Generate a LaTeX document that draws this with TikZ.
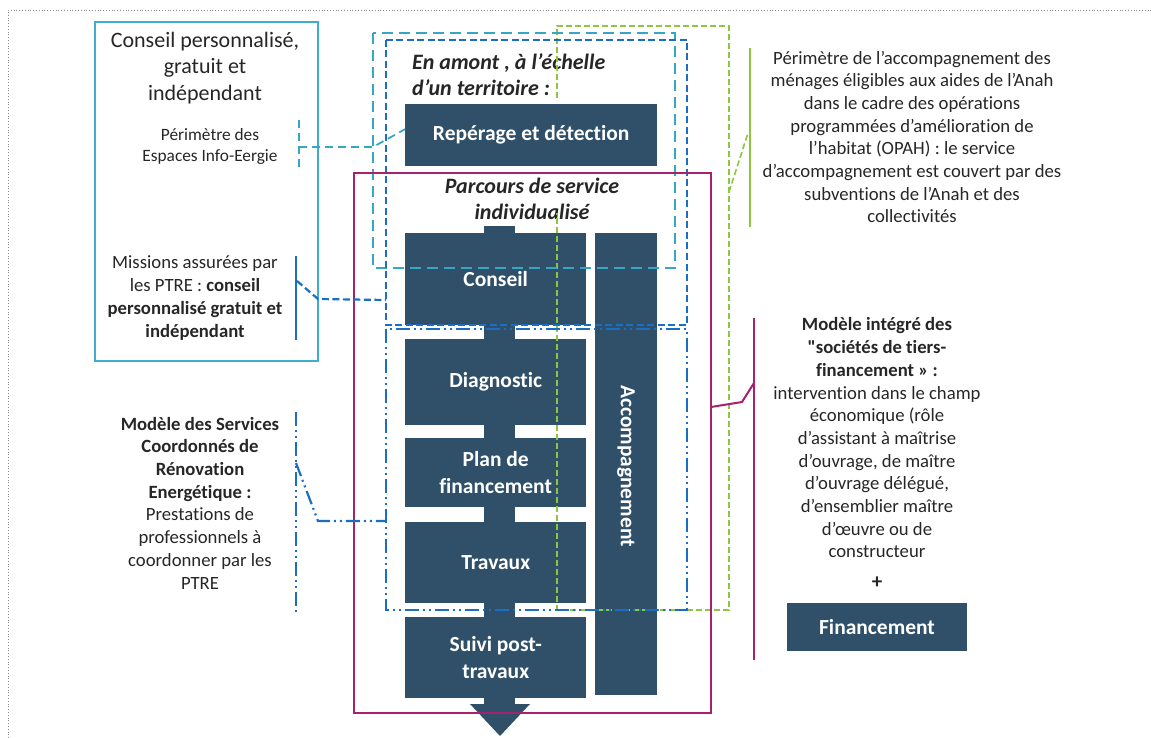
\documentclass[tikz,border=0pt]{standalone}
\usepackage{fontspec}
\usetikzlibrary{calc}
\setmainfont{Carlito}[Ligatures={TeXOff,NoCommon}]
\definecolor{boxblue}{HTML}{2F5068}
\definecolor{ink}{HTML}{262626}
\definecolor{eiecyan}{HTML}{41ACD0}
\definecolor{cyandash}{HTML}{35A7C5}
\definecolor{ptreblue}{HTML}{1A6FC4}
\definecolor{anahgreen}{HTML}{8DC63F}
\definecolor{stfmag}{HTML}{A7226E}
\definecolor{framegray}{HTML}{8A8A8A}
\begin{document}
\begin{tikzpicture}[x=1pt,y=-1pt,
  darkbox/.style={fill=boxblue, text=white, font=\bfseries\fontsize{21.5}{27}\selectfont,
    align=center, inner sep=0pt, anchor=north west},
  note/.style={text=ink, font=\fontsize{18.7}{22.7}\selectfont, align=center, inner sep=0pt},
  heading/.style={text=ink, font=\bfseries\itshape\fontsize{22}{26}\selectfont, inner sep=0pt},
  cyanline/.style={cyandash, line width=1.8pt, dash pattern=on 11pt off 6pt},
  blueline/.style={ptreblue, line width=2.2pt, dash pattern=on 7pt off 3.5pt},
  dashdotline/.style={ptreblue, line width=2.2pt, dash pattern=on 14pt off 4pt on 2pt off 4pt on 2pt off 4pt},
  greenline/.style={anahgreen, line width=1.6pt, dash pattern=on 6pt off 3pt},
  magline/.style={stfmag, line width=2pt},
]
\useasboundingbox (0,0) rectangle (1151,738);

% page frame
\draw[framegray, line width=0.8pt, dotted] (8,738) -- (8,10) -- (1151,10);

% Espaces Info-Energie box
\node[draw=eiecyan, line width=2.4pt, minimum width=223pt, minimum height=339pt,
  anchor=north west, inner sep=0pt] (eie) at (94,21) {};
\node[text=ink, font=\fontsize{22}{26.5}\selectfont, align=center, inner sep=0pt]
  (eietitle) at (205,68) {Conseil personnalisé,\\gratuit et\\indépendant};
\node[text=ink, font=\fontsize{17.3}{21}\selectfont, align=center, inner sep=0pt]
  (eieperim) at (210,146) {Périmètre des\\Espaces Info-Eergie};
\node[note] (missions) at (195,298) {Missions assurées par\\les PTRE : \textbf{conseil}\\\textbf{personnalisé gratuit et}\\\textbf{indépendant}};
\node[note] (scre) at (200,503) {\textbf{Modèle des Services}\\\textbf{Coordonnés de}\\\textbf{Rénovation}\\\textbf{Energétique :}\\Prestations de\\professionnels à\\coordonner par les\\PTRE};

% service path
\node[darkbox, minimum width=181pt, minimum height=92pt] (conseil) at (405,233) {Conseil};
\node[darkbox, minimum width=181pt, minimum height=86pt] (diag) at (405,339) {Diagnostic};
\node[darkbox, minimum width=181pt, minimum height=69pt] (plan) at (405,438) {Plan de\\financement};
\node[darkbox, minimum width=181pt, minimum height=81pt] (travaux) at (405,522) {Travaux};
\node[darkbox, minimum width=181pt, minimum height=81pt] (suivi) at (405,617) {Suivi post-\\travaux};
\node[darkbox, minimum width=62pt, minimum height=462pt] (accomp) at (595,233) {};
\node[text=white, font=\bfseries\fontsize{21.5}{24}\selectfont, rotate=-90, inner sep=0pt]
  (accomptxt) at (626,466) {Accompagnement};
\node[darkbox, minimum width=252pt, minimum height=62pt] (reperage) at (405,104) {Repérage et détection};

% necks joining the steps
\coordinate (nl) at (484,0);
\coordinate (nr) at (515,0);
\fill[boxblue] (nl |- conseil.north) ++(0,-7) rectangle (nr |- conseil.north);
\fill[boxblue] (nl |- conseil.south) rectangle (nr |- diag.north);
\fill[boxblue] (nl |- diag.south) rectangle (nr |- plan.north);
\fill[boxblue] (nl |- plan.south) rectangle (nr |- travaux.north);
\fill[boxblue] (nl |- travaux.south) rectangle (nr |- suivi.north);
\fill[boxblue] (nl |- suivi.south) rectangle ($(nr |- suivi.south)+(0,7)$);
\coordinate (arrowtip) at (500,736);
\fill[boxblue] (470,704) -- (530,704) -- (arrowtip) -- cycle;

% headings
\node[heading, align=left, anchor=west] (amont) at (412,75) {En amont , à l’échelle\\d’un territoire :};
\node[heading, align=center] (parcours) at (532,199) {Parcours de service\\individualisé};

% Anah perimeter (green)
\draw[greenline] (557,98) -- (557,26) -- (729,26) -- (729,610) -- (557,610) -- (557,213);
% EIE perimeter (cyan)
\draw[cyanline] (373,33) rectangle (675,268);
% PTRE missions (blue dashed)
\draw[blueline] (386,40) rectangle (687,325);
% coordinated services (blue dash-dot)
\draw[dashdotline] (386,329) rectangle (687,610);
% third-party financing (magenta)
\draw[magline] (354,173) rectangle (711,713);

% right-hand notes
\node[note] (anah) at (912,137) {Périmètre de l’accompagnement des\\ménages éligibles aux aides de l’Anah\\dans le cadre des opérations\\programmées d’amélioration de\\l’habitat (OPAH) : le service\\d’accompagnement est couvert par des\\subventions de l’Anah et des\\collectivités};
\node[note] (stf) at (877,438) {\textbf{Modèle intégré des}\\\textbf{"sociétés de tiers-}\\\textbf{financement » :}\\intervention dans le champ\\économique (rôle\\d’assistant à maîtrise\\d’ouvrage, de maître\\d’ouvrage délégué,\\d’ensemblier maître\\d’œuvre ou de\\constructeur};
\node[text=ink, font=\bfseries\fontsize{21}{22}\selectfont, inner sep=0pt] (plus) at (877,583) {+};
\node[darkbox, anchor=center, minimum width=180pt, minimum height=48pt] (fin) at (877,627) {Financement};

% brackets beside the notes
\coordinate (eieTop) at (299,120); \coordinate (eieBot) at (299,170);
\draw[cyanline, dash pattern=on 8pt off 5pt] (eieTop) -- (eieBot);
\coordinate (misTop) at (296,256); \coordinate (misBot) at (296,340);
\draw[ptreblue, line width=2pt] (misTop) -- (misBot);
\coordinate (scTop) at (296,412); \coordinate (scBot) at (296,615);
\draw[dashdotline] (scTop) -- (scBot);
\coordinate (anTop) at (750,48); \coordinate (anBot) at (750,227);
\draw[anahgreen, line width=2pt] (anTop) -- (anBot);
\coordinate (stTop) at (754,318); \coordinate (stBot) at (754,660);
\draw[magline] (stTop) -- (stBot);

% connectors from brackets to perimeters
\coordinate (eieMid) at (299,147);
\draw[cyanline, dash pattern=on 8pt off 5pt] (eieMid) -- (373,147) -- ([yshift=6pt]reperage.west);
\coordinate (misMid) at (297,281);
\draw[blueline] (misMid) -- (318,299) -- (386,300);
\coordinate (scMid) at (296,463);
\draw[dashdotline] (scMid) -- (318,521) -- (386,521);
\coordinate (anMid) at (748,133);
\draw[greenline] (729,192) -- (anMid);
\coordinate (stMid) at (754,383);
\draw[magline] (711,407) -- (742,402) -- (stMid);
\end{tikzpicture}
\end{document}
